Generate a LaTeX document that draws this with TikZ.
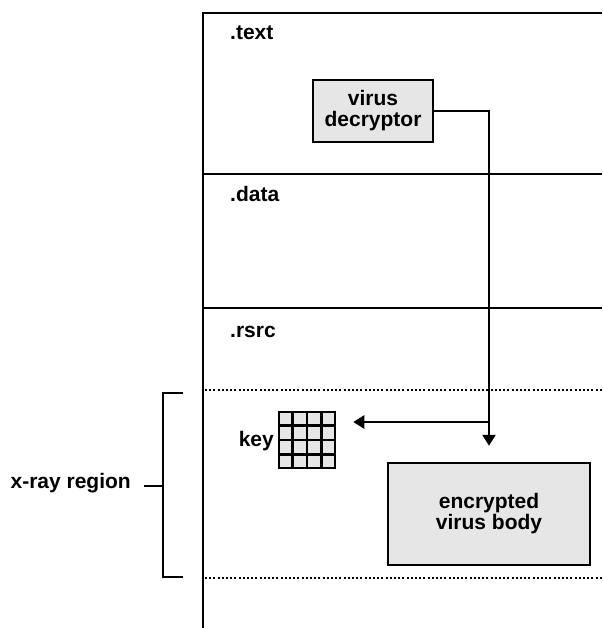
\documentclass[tikz,border=0pt]{standalone}
\usepackage{fontspec}
\setmainfont{Liberation Sans}
\usetikzlibrary{arrows.meta,calc}
\definecolor{boxgray}{HTML}{E6E6E6}
\tikzset{
  every node/.style={font=\fontsize{21}{21}\selectfont\bfseries, inner sep=0pt},
  thick line/.style={line width=2.5pt},
  boxnode/.style={draw, line width=2.5pt, fill=boxgray, align=center},
  dotline/.style={line width=2.5pt, dash pattern=on 2pt off 2.2pt},
  arr/.style={line width=2.5pt, -{Triangle[width=13pt 0,length=11pt 0]}},
  seclabel/.style={anchor=base west},
}
\begin{document}
\begin{tikzpicture}[x=1pt,y=-1pt]
\useasboundingbox (0,0) rectangle (602,628);
% memory frame
\draw[thick line] (602,13) -- (203,13) -- (203,628);
\draw[thick line] (203,174) -- (602,174);
\draw[thick line] (203,308) -- (602,308);
\draw[dotline] (205,390) -- (602,390);
\draw[dotline] (205,578) -- (602,578);
% section labels
\node[seclabel] (ltext) at (230,40) {.text};
\node[seclabel] (ldata) at (230,202) {.data};
\node[seclabel] (lrsrc) at (230,337) {.rsrc};
% boxes
\node[boxnode, minimum width=120pt, minimum height=62pt] (dec) at (373,111) {virus\\decryptor};
\node[boxnode, minimum width=202pt, minimum height=102pt] (body) at (489,514) {encrypted\\virus body};
% key grid
\node[draw, line width=2.5pt, fill=boxgray, minimum width=56pt, minimum height=56pt] (keygrid) at (307,440) {};
\foreach \i in {1,2,3} {
  \draw[line width=2.5pt] ($(keygrid.north west)!\i/4!(keygrid.north east)$) -- ($(keygrid.south west)!\i/4!(keygrid.south east)$);
  \draw[line width=2.5pt] ($(keygrid.north west)!\i/4!(keygrid.south west)$) -- ($(keygrid.north east)!\i/4!(keygrid.south east)$);
}
\node[anchor=base east] (keylbl) at (274,446) {key};
% connectors
\draw[arr, shorten >=16pt] (dec.east) -| (body.north);
\coordinate (br) at (body.north |- 0,422);
\draw[arr, shorten >=17pt] (br) -- (br -| keygrid.east);
% x-ray bracket
\coordinate (bt) at (183,393);
\coordinate (bb) at (183,577);
\coordinate (bm) at (163,486);
\draw[thick line] (bt) -- (163,393) -- (163,577) -- (bb);
\node[anchor=mid east] (xray) at (131,486) {x-ray region};
\draw[thick line] (bm) -- ([xshift=13pt]xray.mid east);
\end{tikzpicture}
\end{document}
